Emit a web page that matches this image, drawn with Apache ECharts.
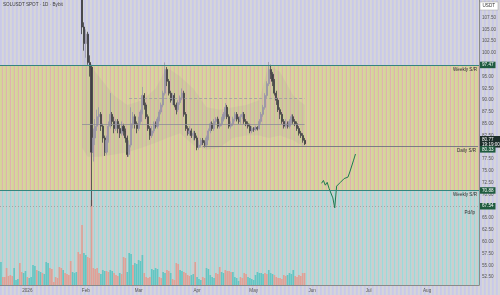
<!DOCTYPE html>
<html><head><meta charset="utf-8">
<script src="https://cdn.jsdelivr.net/npm/echarts@6/dist/echarts.min.js"></script>
<style>html,body{margin:0;padding:0;background:#d0d0dc}#c{width:500px;height:295px}</style>
</head><body><div id="c"></div>
<script>
// ---- axis / category data ----
const startDate = '2025-12-18';
const endDate = '2026-08-28';
const monthLabels = ['2026','Feb','Mar','Apr','May','Jun','Jul','Aug'];
const priceTicks = [52.5,55,57.5,60,62.5,65,67.5,70,72.5,75,77.5,80,82.5,85,87.5,90,92.5,95,97.5,100,102.5,105,107.5];
const priceMin = 50.85, priceMax = 111.23;

// ---- candles (daily, from candleStart) ----
const candleStart = '2026-01-30';
const firstOpen = 113;
const closes = [105.5,102,104,98,97,79,82,84.5,86.5,87,
 84.5,82,79,81.5,84.5,87,85.5,84,85.5,84,
 83,84.5,83.5,82,78.5,80.5,85,86.5,85,84,
 85.5,87.5,91,89,86.5,84,82.5,83.5,85,84.5,
 86,87.5,89,91.5,96.5,94,91.5,90,91,89,
 88,89.5,90.5,91.5,87,84,83,83.5,82.5,83,
 82,80,80.5,81.5,81,80.5,82,83.5,85,84,
 85.5,86,84.5,85,86,87,88.5,86.5,84.5,85,
 86,87,86,85.5,86.5,87,85.5,85,84.5,83.5,
 84,83.8,84.2,84,85.5,87,88.5,91,93.5,96.5,
 95.5,94,91.5,90,88,87,85.5,84.5,85,84.5,
 85.5,86.5,85.5,85,84,83,82.5,81.5,80.77];
const highs = [118,106.5,105,104.5,99.5,97.5,84,86,88,88.5,
 87.5,85,82.5,82.5,85.5,91.5,87.5,86.5,86,86,
 85,85.5,85,84,82.5,81.5,88.5,87.5,87,85.5,
 86.5,88,92.8,91.5,89.5,87,84.5,84.5,85.5,85.5,
 86.5,88,89.5,92,98,97,94.5,92,91.5,91.5,
 89.5,90,91,92.5,92,87.5,84.5,84.5,84,83.5,
 83.5,82.5,81.5,82,82,81.5,82.5,84,85.4,85.5,
 86,86.4,86.5,85.5,86.5,87.5,89.4,89,87,85.5,
 86.5,87.5,87.5,86.5,87,87.5,87.5,86,85.5,85,
 84.5,84.3,84.6,84.5,86,87.5,89,91.5,94,98.1,
 97.5,96,94.5,92,90.5,88.5,87.5,86,86,85.5,
 86,87,87,86,85.5,84.5,83.5,83,82];
const lows = [104,100.5,99,97.5,95,67.54,77,80.5,83.5,85,
 83.5,81,78.2,78.5,81,84,84.5,83,83.5,83,
 82,82.5,82.5,81,78,78,80,84,84,83,
 83.5,85,87,88,86,83.5,81.6,82,83,84,
 84,85.5,87,88.5,91,93,91,89.5,89,88.5,
 87,87.5,89,90,86.5,83.5,82.5,82.5,82,81.5,
 81.5,79.4,79.5,80,80.5,80,80,81.5,83,83.5,
 83.5,85,84,84,84.5,85.5,86.5,86,84,84,
 84.5,85.5,85.5,85,85,86,85,84.5,84,83,
 83,83.3,83.5,83.6,83.8,85,86.5,88,90.5,93,
 94.5,93,91,89,87.5,86,85,84,84,84,
 84,85,85,84.5,83.5,82.5,82,81,80.5];

// ---- volume (daily, from startDate) ----
const volume = [23,8,8,17,9,10,9,17,5,6,
 22,13,12,14,8,7,8,20,19,15,
 14,13,12,11,23,22,17,16,3,8,
 7,18,17,15,12,11,10,24,13,12,
 13,33,31,60,32,30,28,27,85,17,
 16,17,12,11,15,14,14,13,15,14,
 12,10,9,12,11,28,27,13,32,31,
 20,22,21,25,24,30,12,8,7,8,
 16,15,17,16,8,7,13,12,15,14,
 12,6,5,22,21,15,14,13,12,10,
 9,10,11,23,8,6,5,8,7,17,
 16,10,8,7,12,11,18,13,12,15,
 14,14,13,13,8,7,4,8,7,12,
 11,8,7,6,5,10,13,12,12,11,
 12,11,15,12,11,10,8,7,7,6,
 10,9,10,12,11,15,9,8,10,9,
 12,12];
const volumeDir = 'udddddduuu'+'dduuduuuud'+'uuduuudddd'+'dddudddduu'+'uddduudddd'+
 'ddduuudduu'+'ddduddduuu'+'duuuuudddd'+'uuuudduudd'+'udddduuddd'+
 'duuduuuddu'+'uuuuddduud'+'ddduuuuddd'+'duuuuuuuuu'+'dduuuddddd'+'dduuuudddd'+'dd';

// ---- shaded band around price ----
const bandDates = ['2026-01-30','2026-02-02','2026-02-08','2026-02-16','2026-02-23','2026-03-03','2026-03-10','2026-03-16','2026-03-23','2026-03-30','2026-04-06','2026-04-13','2026-04-20','2026-04-27','2026-05-04','2026-05-09','2026-05-15','2026-05-22','2026-05-28'];
const bandUpper = [104,98,95,91,89,90,92.5,97,95,92.5,88.5,88,88.5,89,90,97.5,96,91,89];
const bandLower = [80,78,78,78.5,79,80,81,82,83,80.5,79.5,80,82,82.5,82.5,82,82.5,81.5,80];

// ---- projection path ----
const projDates = ['2026-06-06','2026-06-07','2026-06-08','2026-06-09','2026-06-10','2026-06-12','2026-06-13','2026-06-14','2026-06-16','2026-06-18','2026-06-20','2026-06-21','2026-06-22','2026-06-23','2026-06-24'];
const projValues = [72.4,73.0,72.0,72.6,71.3,69.3,67.2,71.8,72.6,73.4,73.7,74.8,75.2,77.3,78.6];

// ---- levels ----
const weeklyHigh = 97.47, weeklyLow = 70.88, dailySR = 80.33, lastPrice = 80.77, pdLevel = 67.54;
const rangeHigh = 90.41, rangeMid = 84.89;
const dailySRStart = '2026-04-04', rangeHighStart = '2026-02-24', rangeMidStart = '2026-01-30', rangeEnd = '2026-05-28';
const countdown = '19:19:00';

// ---- build ----
function fmt(d){return d.toISOString().slice(0,10);}
const cats = [];
for (let t = Date.parse(startDate+'T00:00:00Z'); t <= Date.parse(endDate+'T00:00:00Z'); t += 864e5) cats.push(fmt(new Date(t)));
const c0 = cats.indexOf(candleStart);
const candleData = cats.map((d,i)=>{const k=i-c0; if(k<0||k>=closes.length) return '-'; const o=k===0?firstOpen:closes[k-1]; return [o,closes[k],lows[k],highs[k]];});
const UPV='#63c6c3', DNV='#e0a096';
const volData = cats.map((d,i)=> i<volume.length ? {value:volume[i], itemStyle:{color: volumeDir[i]==='u'?UPV:DNV}} : '-');

function stripes(cols){const c=document.createElement('canvas');c.width=cols.length;c.height=2;const g=c.getContext('2d');cols.forEach((col,i)=>{g.fillStyle=col;g.fillRect(i,0,1,2);});return {image:c,repeat:'repeat'};}
const patTop = stripes(['#c9c9e8','#cbcbe8','#d6d6d7','#d4d4d9']);
const patMid = stripes(['#d6d59a','#d4d398','#dfb3ae','#d7d5a2']);
const patBot = stripes(['#cdcdcd','#cbcece','#9fd8d8','#b8d8d8']);

const FONT = 'Liberation Sans';
const TEAL = '#35857f', GREEN = '#1f5b40';
const HIDE = {color:'rgba(0,0,0,0)', width:0};
const txt = {fontSize:4.6, color:'#2e2e2e', fontFamily:FONT};
const box = (bg)=>({show:true, position:'end', distance:1, color:'#ffffff', backgroundColor:bg, padding:[1,2,0.5,2], fontSize:4.6, fontFamily:FONT, lineHeight:5, opacity:1});

const chart = echarts.init(document.getElementById('c'), null, {renderer:'canvas'});
chart.setOption({
  animation:false,
  backgroundColor:'#d0d0dc',
  graphic:[{type:'rect', z:-10, silent:true, shape:{x:0,y:0,width:500,height:295}, style:{fill:patTop}}],
  title:[
    {text:'SOLUSDT SPOT · 1D · Bybit', left:3, top:2, padding:0, textStyle:{fontSize:4.6, color:'#3a3a3a', fontWeight:'normal', fontFamily:FONT}},
    {text:'USDT', right:2, top:2, padding:[1.5,3], backgroundColor:'#ffffff', borderColor:'#a0a0a0', borderWidth:0.5, textStyle:{fontSize:4.6, color:'#333', fontWeight:'normal', fontFamily:FONT}}
  ],
  grid:[{left:0,right:21,top:0,bottom:10},{left:0,right:21,top:150,bottom:10}],
  xAxis:[
    {type:'category', gridIndex:0, data:cats, boundaryGap:true,
     axisLine:{lineStyle:{color:'#8a8a8a', width:1}}, axisTick:{show:false}, splitLine:{show:false},
     axisLabel:{interval:(i,v)=>v.slice(8)==='01', formatter:(v)=>monthLabels[parseInt(v.slice(5,7),10)-1]||'', fontSize:4.6, color:'#555', margin:3, fontFamily:FONT}},
    {type:'category', gridIndex:1, data:cats, boundaryGap:true, show:false}
  ],
  yAxis:[
    {type:'value', gridIndex:0, position:'right', min:priceMin, max:priceMax, splitLine:{show:false},
     axisLine:{show:true, lineStyle:{color:'#8a8a8a', width:1}}, axisTick:{show:false},
     axisLabel:{customValues:priceTicks, formatter:(v)=>v.toFixed(2), fontSize:4.6, color:'#555', margin:3, fontFamily:FONT}},
    {type:'value', gridIndex:1, min:0, max:135, show:false}
  ],
  series:[
    {type:'bar', xAxisIndex:1, yAxisIndex:1, data:volData, barCategoryGap:'12%', silent:true, z:1},
    {type:'line', name:'bandLow', xAxisIndex:0, yAxisIndex:0, stack:'band', symbol:'none', silent:true,
     lineStyle:{opacity:0}, data:bandDates.map((d,i)=>[d,bandLower[i]])},
    {type:'line', name:'bandFill', xAxisIndex:0, yAxisIndex:0, stack:'band', symbol:'none', silent:true,
     lineStyle:{opacity:0}, areaStyle:{color:'rgba(130,128,150,0.15)'}, data:bandDates.map((d,i)=>[d,bandUpper[i]-bandLower[i]])},
    {type:'candlestick', xAxisIndex:0, yAxisIndex:0, data:candleData, barWidth:'85%', clip:true, silent:true,
     itemStyle:{color:'#9a96aa', color0:'#3a3a3c', borderColor:'#9a96aa', borderColor0:'#3a3a3c', borderWidth:0.8},
     markArea:{silent:true, itemStyle:{opacity:1}, data:[
       [{yAxis:weeklyLow, itemStyle:{color:patMid, opacity:1}}, {yAxis:weeklyHigh}],
       [{yAxis:priceMin, itemStyle:{color:patBot, opacity:1}}, {yAxis:weeklyLow}]
     ]}
    },
    {type:'line', name:'levels', xAxisIndex:0, yAxisIndex:0, data:[], clip:false, silent:true,
     markLine:{silent:true, symbol:['none','none'], animation:false, data:[
       {yAxis:weeklyHigh, lineStyle:{color:TEAL,width:1,type:'solid'}, label:Object.assign({position:'insideEndBottom', distance:2, formatter:'Weekly S/R'}, txt)},
       {yAxis:weeklyHigh, lineStyle:HIDE, label:Object.assign(box(GREEN), {formatter:weeklyHigh.toFixed(2)})},
       {yAxis:weeklyLow, lineStyle:{color:TEAL,width:1,type:'solid'}, label:Object.assign({position:'insideEndBottom', distance:2, formatter:'Weekly S/R'}, txt)},
       {yAxis:weeklyLow, lineStyle:HIDE, label:Object.assign(box(GREEN), {formatter:weeklyLow.toFixed(2)})},
       {yAxis:pdLevel, lineStyle:{color:'#9a9a9a',width:0.8,type:[1,2]}, label:Object.assign({position:'insideEndBottom', distance:4, formatter:'Pd/lp'}, txt)},
       {yAxis:pdLevel, lineStyle:HIDE, label:Object.assign(box(GREEN), {formatter:pdLevel.toFixed(2)})},
       {yAxis:lastPrice, lineStyle:HIDE, label:Object.assign(box('#1d2e2a'), {formatter:lastPrice.toFixed(2)+'\n'+countdown, offset:[0,-2]})},
       {yAxis:dailySR, lineStyle:HIDE, label:Object.assign(box(GREEN), {formatter:dailySR.toFixed(2), offset:[0,3.5]})},
       [{coord:[dailySRStart,dailySR], lineStyle:{color:'#7c7c84',width:1,type:'solid'}, label:Object.assign({position:'insideEndBottom', distance:2, formatter:'Daily S/R'}, txt)}, {coord:[cats[cats.length-1],dailySR]}],
       [{coord:[rangeHighStart,rangeHigh], lineStyle:{color:'#9a9aa0',width:0.8,type:[3,2]}, label:{show:false}}, {coord:[rangeEnd,rangeHigh]}],
       [{coord:[rangeMidStart,rangeMid], lineStyle:{color:'#8e8e96',width:0.8,type:'solid'}, label:{show:false}}, {coord:[rangeEnd,rangeMid]}]
     ]}
    },
    {type:'line', xAxisIndex:0, yAxisIndex:0, silent:true, symbol:'none', showSymbol:true,
     lineStyle:{color:'#1f7a50', width:1}, itemStyle:{color:'#1f7a50'},
     data:projDates.map((d,i)=> i===projDates.length-1 ? {value:[d,projValues[i]], symbol:'triangle', symbolSize:[4,4]} : [d,projValues[i]])}
  ]
});
</script></body></html>
